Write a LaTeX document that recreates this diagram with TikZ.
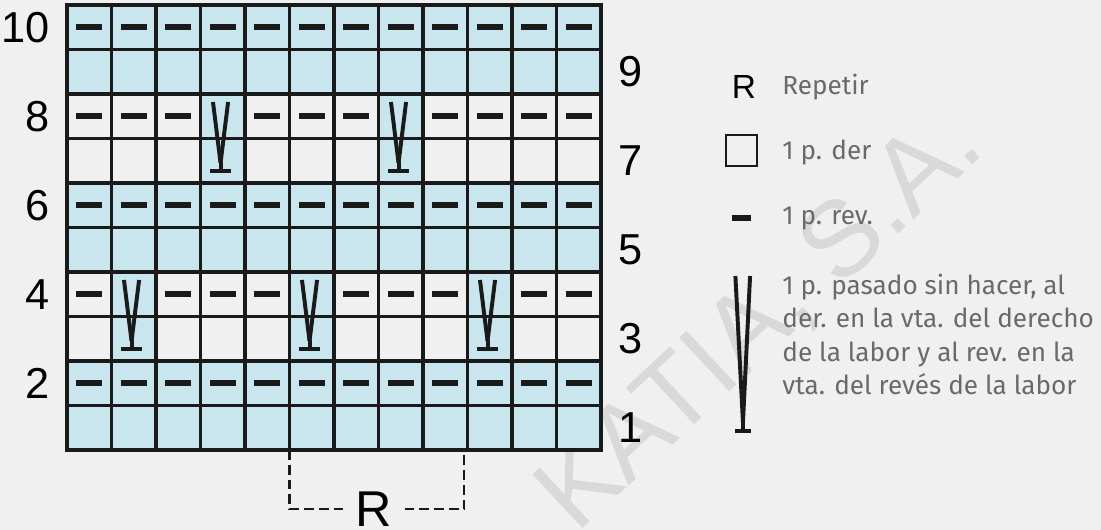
\documentclass[tikz,border=0pt]{standalone}
\usepackage{fontspec}
\setmainfont{Liberation Sans}
\newfontfamily\legendfont{Fira Sans}
\usetikzlibrary{positioning}
\definecolor{chartbg}{HTML}{F0F0F0}
\definecolor{chartblue}{HTML}{C9E6EF}
\definecolor{chartink}{HTML}{1A1A1A}
\definecolor{legendgray}{HTML}{6A6A6A}
\definecolor{markgray}{HTML}{D9D9D9}

\begin{document}
\begin{tikzpicture}[
    x=1.1125cm,y=1.1125cm,
    rownum/.style={font=\fontsize{30.8}{34}\selectfont,text=black,inner sep=0pt},
    gridline/.style={draw=chartink,line width=2.6pt},
    bluecell/.style={fill=chartblue},
    purl/.style={draw=chartink,line width=4.2pt},
    slip/.style={draw=chartink,line width=2.8pt},
    legendsym/.style={font=\fontsize{23.8}{26}\selectfont,inner sep=0pt},
    legendtext/.style={font=\legendfont\fontsize{18.6}{23.8}\selectfont,text=legendgray,inner sep=0pt,align=left},
    repline/.style={draw=chartink,line width=1.5pt,dash pattern=on 7pt off 3.5pt}
  ]
  \fill[chartbg] (-1.506,-1.798) rectangle (23.236,10.112);
  \useasboundingbox (-1.506,-1.798) rectangle (23.236,10.112);

  % watermark
  \node[font=\fontsize{76}{80}\selectfont,text=markgray,rotate=43] (mark) at (15.6,2.9) {KATIA, S.A.};

  % coloured cells
  \foreach \r in {1,2,5,6,9,10}
    \fill[bluecell] (0,\r-1) rectangle (12,\r);
  \foreach \c in {2,6,10}
    \fill[bluecell] (\c-1,2) rectangle (\c,4);
  \foreach \c in {4,8}
    \fill[bluecell] (\c-1,6) rectangle (\c,8);
  \draw[gridline,step=1] (0,0) grid (12,10);
  \draw[gridline] (0,0) rectangle (12,10);

  % purl stitches
  \foreach \r in {2,6,10}
    \foreach \c in {1,...,12}
      \draw[purl] (\c-0.79,\r-0.5) -- (\c-0.21,\r-0.5);
  \foreach \c in {1,3,4,5,7,8,9,11,12}
    \draw[purl] (\c-0.79,3.5) -- (\c-0.21,3.5);
  \foreach \c in {1,2,3,5,6,7,9,10,11,12}
    \draw[purl] (\c-0.79,7.5) -- (\c-0.21,7.5);

  % slipped stitches over two rows
  \foreach \c/\r in {2/2,6/2,10/2,4/6,8/6} {
    \draw[slip] (\c-0.72,\r+1.82) -- (\c-0.55,\r+0.45);
    \draw[slip] (\c-0.38,\r+1.82) -- (\c-0.55,\r+0.45);
    \draw[slip] (\c-0.55,\r+0.47) -- (\c-0.55,\r+0.27);
    \draw[slip] (\c-0.78,\r+0.27) -- (\c-0.31,\r+0.27);
  }

  % row numbers
  \foreach \r in {2,4,...,10}
    \node[rownum,anchor=east] (even\r) at (-0.38,\r-0.5) {\r};
  \foreach \r in {1,3,...,9}
    \node[rownum,anchor=west] (odd\r) at (12.38,\r-0.5) {\r};

  % repeat
  \coordinate (repleft) at (5,0);
  \coordinate (repright) at (8.92,0);
  \node[font=\fontsize{35.8}{40}\selectfont,inner ysep=0pt,inner xsep=0.3cm] (rep) at (6.9,-1.33) {R};
  \draw[repline] (repleft) |- (rep.west);
  \draw[repline] (rep.east) -| (repright);

  % legend
  \node[legendsym] (legrep) at (15.21,8.16) {R};
  \node[legendtext,anchor=base west] (legreptext) at (16.07,7.98) {Repetir};
  \node[draw=chartink,line width=1.4pt,inner sep=0pt,minimum size=0.775cm] (legknit) at (15.16,6.74) {};
  \node[legendtext,anchor=base west] (legknittext) at (16.07,6.52) {1 p. der};
  \draw[purl,line width=3.8pt] (14.94,5.21) -- (15.38,5.21);
  \node[legendtext,anchor=base west] (legpurltext) at (16.07,5.06) {1 p. rev.};
  \draw[slip] (15.02,3.91) -- (15.19,0.62);
  \draw[slip] (15.35,3.91) -- (15.19,0.62);
  \draw[slip] (15.19,0.66) -- (15.19,0.43);
  \draw[slip] (15.02,0.43) -- (15.37,0.43);
  \node[legendtext,anchor=base west] (legsliptext) at (16.07,1.24)
    {1 p. pasado sin hacer, al\\der. en la vta. del derecho\\de la labor y al rev. en la\\vta. del revés de la labor};
\end{tikzpicture}
\end{document}
